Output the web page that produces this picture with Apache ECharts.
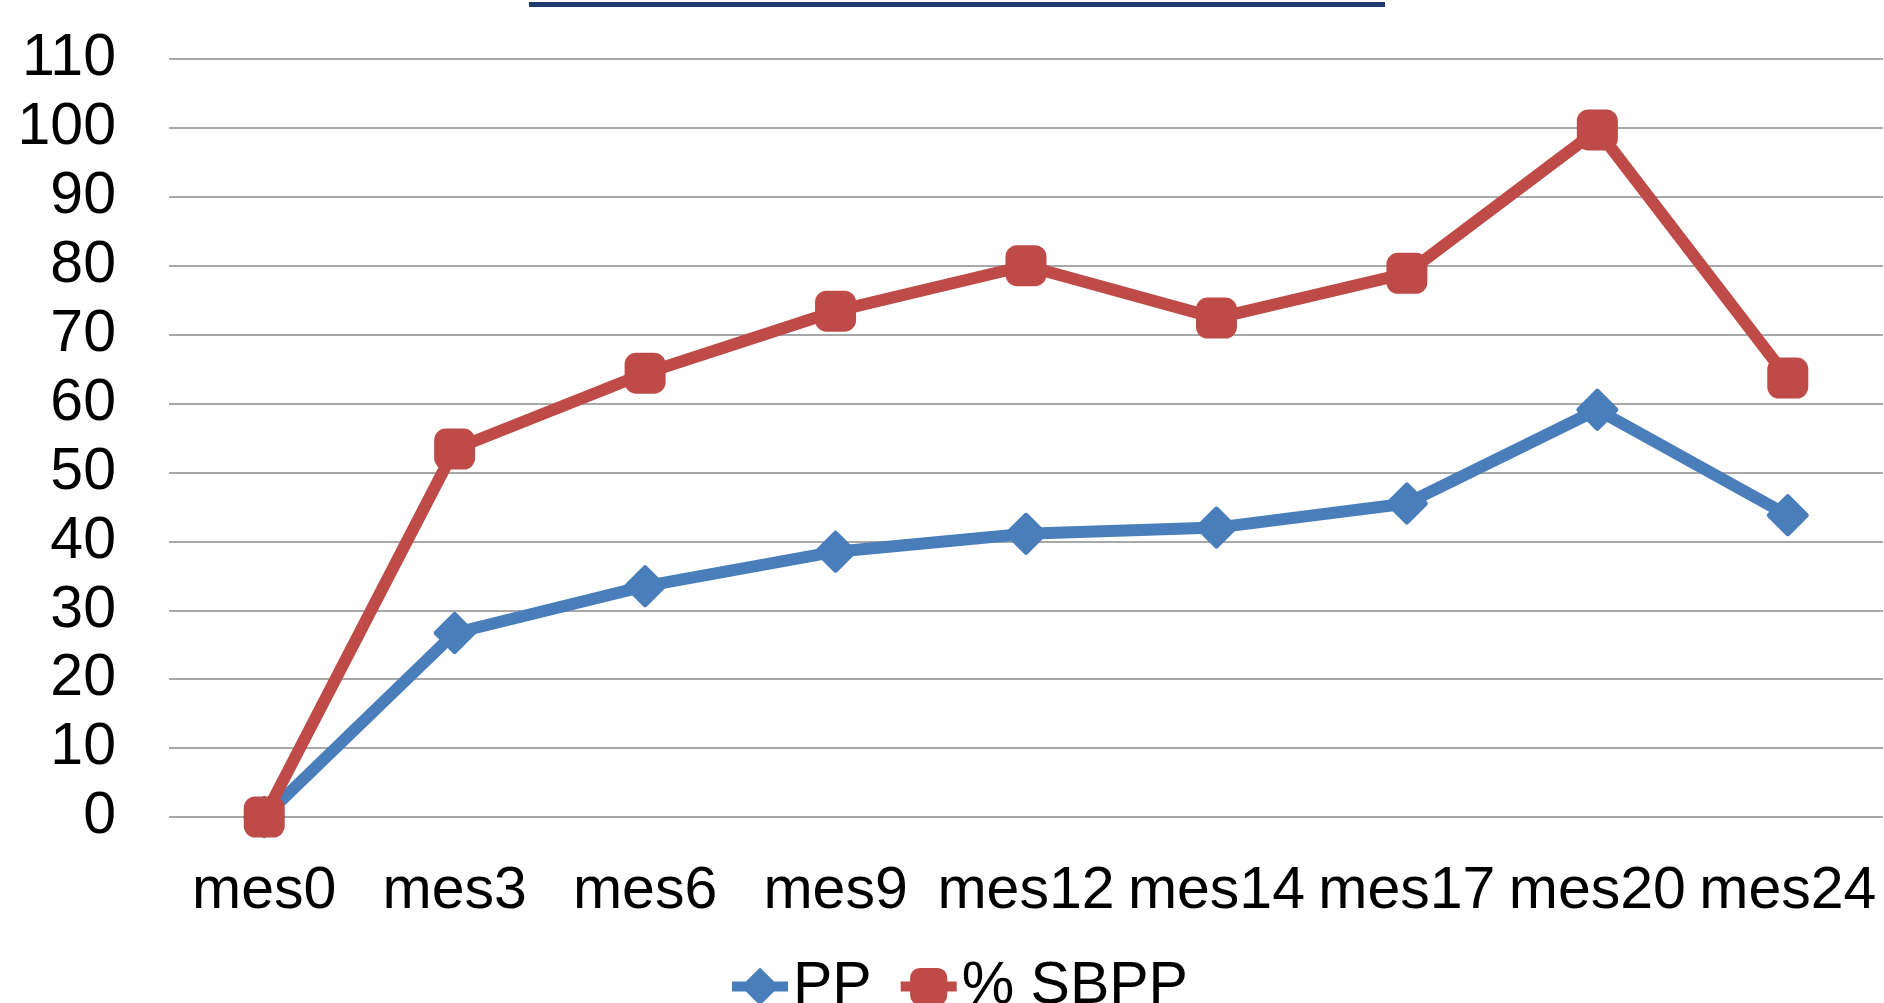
<!DOCTYPE html>
<html>
<head>
<meta charset="utf-8">
<script src="https://cdn.jsdelivr.net/npm/echarts@6/dist/echarts.min.js"></script>
<style>
  html, body { margin: 0; padding: 0; background: #ffffff; }
  #chart { width: 1884px; height: 1003px; }
</style>
</head>
<body>
<div id="chart"></div>
<script>
// Follow-up months
const months = ['mes0', 'mes3', 'mes6', 'mes9', 'mes12', 'mes14', 'mes17', 'mes20', 'mes24'];
// Series values
const ppValues = [0, 26.7, 33.5, 38.5, 41.1, 42.0, 45.5, 59.1, 43.8];
const sbppValues = [0, 53.4, 64.4, 73.4, 80.0, 72.4, 78.9, 99.7, 63.7];
// Value axis range
const yMin = 0;
const yMax = 110;
const yStep = 10;

const chart = echarts.init(document.getElementById('chart'), null, { renderer: 'canvas' });

const FONT = 'Liberation Sans, Arial, sans-serif';
const BLUE = '#4A7EBB';
const RED = '#BE4B48';

chart.setOption({
  animation: false,
  backgroundColor: '#ffffff',
  textStyle: { fontFamily: FONT },
  graphic: [
    {
      type: 'rect',
      shape: { x: 529, y: 2, width: 856, height: 5 },
      style: { fill: '#1F3A6E' },
      silent: true
    }
  ],
  grid: { left: 169, right: 1, top: 59, bottom: 186, containLabel: false },
  legend: {
    left: 727,
    top: 957,
    padding: 0,
    itemWidth: 56,
    itemHeight: 44,
    itemGap: 24,
    lineStyle: { width: 10 },
    textStyle: { fontFamily: FONT, fontSize: 59, color: '#000000' },
    data: ['PP', '% SBPP']
  },
  xAxis: {
    type: 'category',
    data: months,
    boundaryGap: true,
    axisLine: { show: false },
    axisTick: { show: false },
    axisLabel: { color: '#000000', fontSize: 59, fontFamily: FONT, margin: 45, interval: 0 }
  },
  yAxis: {
    type: 'value',
    min: yMin,
    max: yMax,
    interval: yStep,
    axisLine: { show: false },
    axisTick: { show: false },
    axisLabel: { color: '#000000', fontSize: 59, fontFamily: FONT, margin: 53 },
    splitLine: { lineStyle: { color: '#A8A8A8', width: 2 } }
  },
  series: [
    {
      name: 'PP',
      type: 'line',
      data: ppValues,
      symbol: 'diamond',
      symbolSize: [37, 37],
      lineStyle: { color: BLUE, width: 12, join: 'round' },
      itemStyle: { color: BLUE, borderColor: BLUE, borderWidth: 5, borderJoin: 'round' },
      z: 2
    },
    {
      name: '% SBPP',
      type: 'line',
      data: sbppValues,
      symbol: 'roundRect',
      symbolSize: [36, 36],
      lineStyle: { color: RED, width: 12, join: 'round' },
      itemStyle: { color: RED, borderColor: RED, borderWidth: 5, borderJoin: 'round' },
      z: 3
    }
  ]
});
</script>
</body>
</html>
